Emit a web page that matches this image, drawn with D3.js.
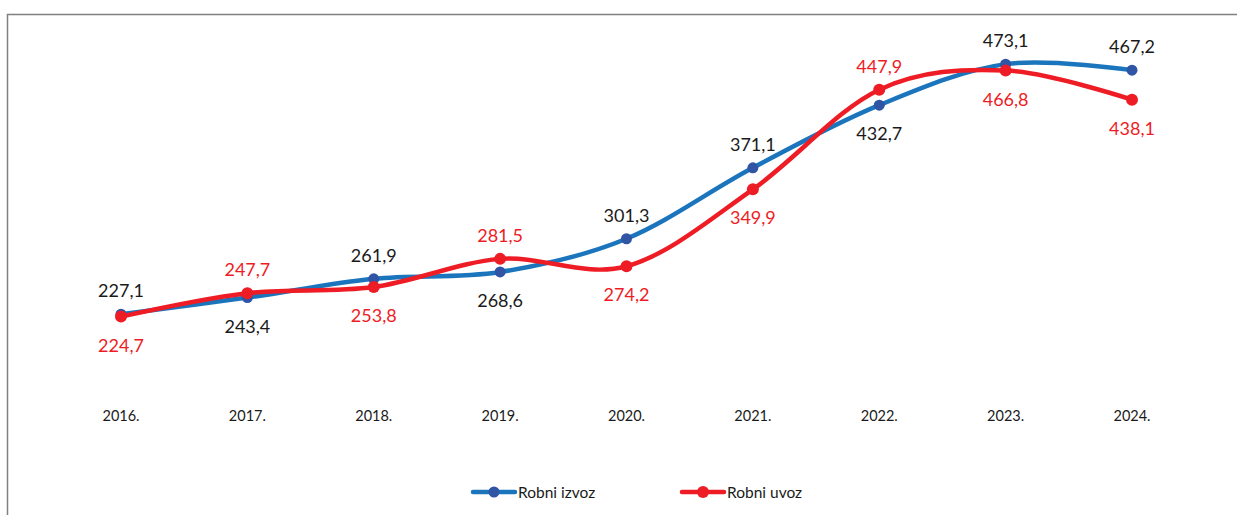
<!DOCTYPE html>
<html>
<head>
<meta charset="utf-8">
<script src="https://cdn.jsdelivr.net/npm/d3@7"></script>
<style>
  body { margin: 0; background: #fff; }
  svg { display: block; font-family: Lato, "Open Sans", sans-serif; }
</style>
</head>
<body>
<div id="chart"></div>
<script>
var width = 1237;
var height = 515;

// data
var years = ["2016.", "2017.", "2018.", "2019.", "2020.", "2021.", "2022.", "2023.", "2024."];
var izvoz = [227.1, 243.4, 261.9, 268.6, 301.3, 371.1, 432.7, 473.1, 467.2];
var uvoz = [224.7, 247.7, 253.8, 281.5, 274.2, 349.9, 447.9, 466.8, 438.1];
var seriesNames = ["Robni izvoz", "Robni uvoz"];

// which side of the point each label sits on (1 = above, 0 = below)
var izvozAbove = [1, 0, 1, 0, 1, 1, 0, 1, 1];
var uvozAbove = [0, 1, 0, 1, 0, 0, 1, 0, 0];

var fmt = function(v) { return d3.format(".1f")(v).replace(".", ","); };

var svg = d3.select("#chart")
  .append("svg")
  .attr("width", width)
  .attr("height", height);

// outer frame (runs off the page on right and bottom)
svg.append("rect")
  .attr("x", 7.5)
  .attr("y", 14.5)
  .attr("width", 1300)
  .attr("height", 600)
  .attr("fill", "none")
  .attr("stroke", "#808080")
  .attr("stroke-width", 1.5);

var xScale = d3.scalePoint()
  .domain(years)
  .range([121, 1132]);

var yScale = d3.scaleLinear()
  .domain([200, 500])
  .range([341.7, 36.8]);

var line = d3.line()
  .x(function(d, i) { return xScale(years[i]); })
  .y(function(d) { return yScale(d); })
  .curve(d3.curveCardinal.tension(0));

var series = [
  { name: seriesNames[0], values: izvoz, above: izvozAbove, line: "#1b75bc", dot: "#2f55a4", text: "#1a1a1a", r: 5.5 },
  { name: seriesNames[1], values: uvoz, above: uvozAbove, line: "#ee1c25", dot: "#ee1c25", text: "#ee1c25", r: 6 }
];

series.forEach(function(s) {
  svg.append("path")
    .datum(s.values)
    .attr("d", line)
    .attr("fill", "none")
    .attr("stroke", s.line)
    .attr("stroke-width", 4.5)
    .attr("stroke-linecap", "round");

  svg.selectAll(null)
    .data(s.values)
    .enter().append("circle")
    .attr("cx", function(d, i) { return xScale(years[i]); })
    .attr("cy", function(d) { return yScale(d); })
    .attr("r", s.r)
    .attr("fill", s.dot);
});

series.forEach(function(s) {
  svg.selectAll(null)
    .data(s.values)
    .enter().append("text")
    .attr("x", function(d, i) { return xScale(years[i]); })
    .attr("y", function(d, i) {
      return s.above[i] ? yScale(d) - 17 : yScale(d) + 35;
    })
    .attr("text-anchor", "middle")
    .attr("font-size", "18px")
    .attr("fill", s.text)
    .text(function(d) { return fmt(d); });
});

// category labels
svg.selectAll(null)
  .data(years)
  .enter().append("text")
  .attr("x", function(d) { return xScale(d); })
  .attr("y", 421)
  .attr("text-anchor", "middle")
  .attr("font-size", "14.5px")
  .attr("fill", "#1a1a1a")
  .text(function(d) { return d; });

// legend
var legendX = [473, 682];
series.forEach(function(s, i) {
  var g = svg.append("g").attr("transform", "translate(" + legendX[i] + ",492)");
  g.append("line")
    .attr("x1", 0).attr("x2", 42)
    .attr("y1", 0).attr("y2", 0)
    .attr("stroke", s.line)
    .attr("stroke-width", 4.5)
    .attr("stroke-linecap", "round");
  g.append("circle")
    .attr("cx", 21).attr("cy", 0)
    .attr("r", s.r)
    .attr("fill", s.dot);
  g.append("text")
    .attr("x", 45)
    .attr("y", 5.5)
    .attr("font-size", "15.5px")
    .attr("fill", "#1a1a1a")
    .text(s.name);
});
</script>
</body>
</html>
